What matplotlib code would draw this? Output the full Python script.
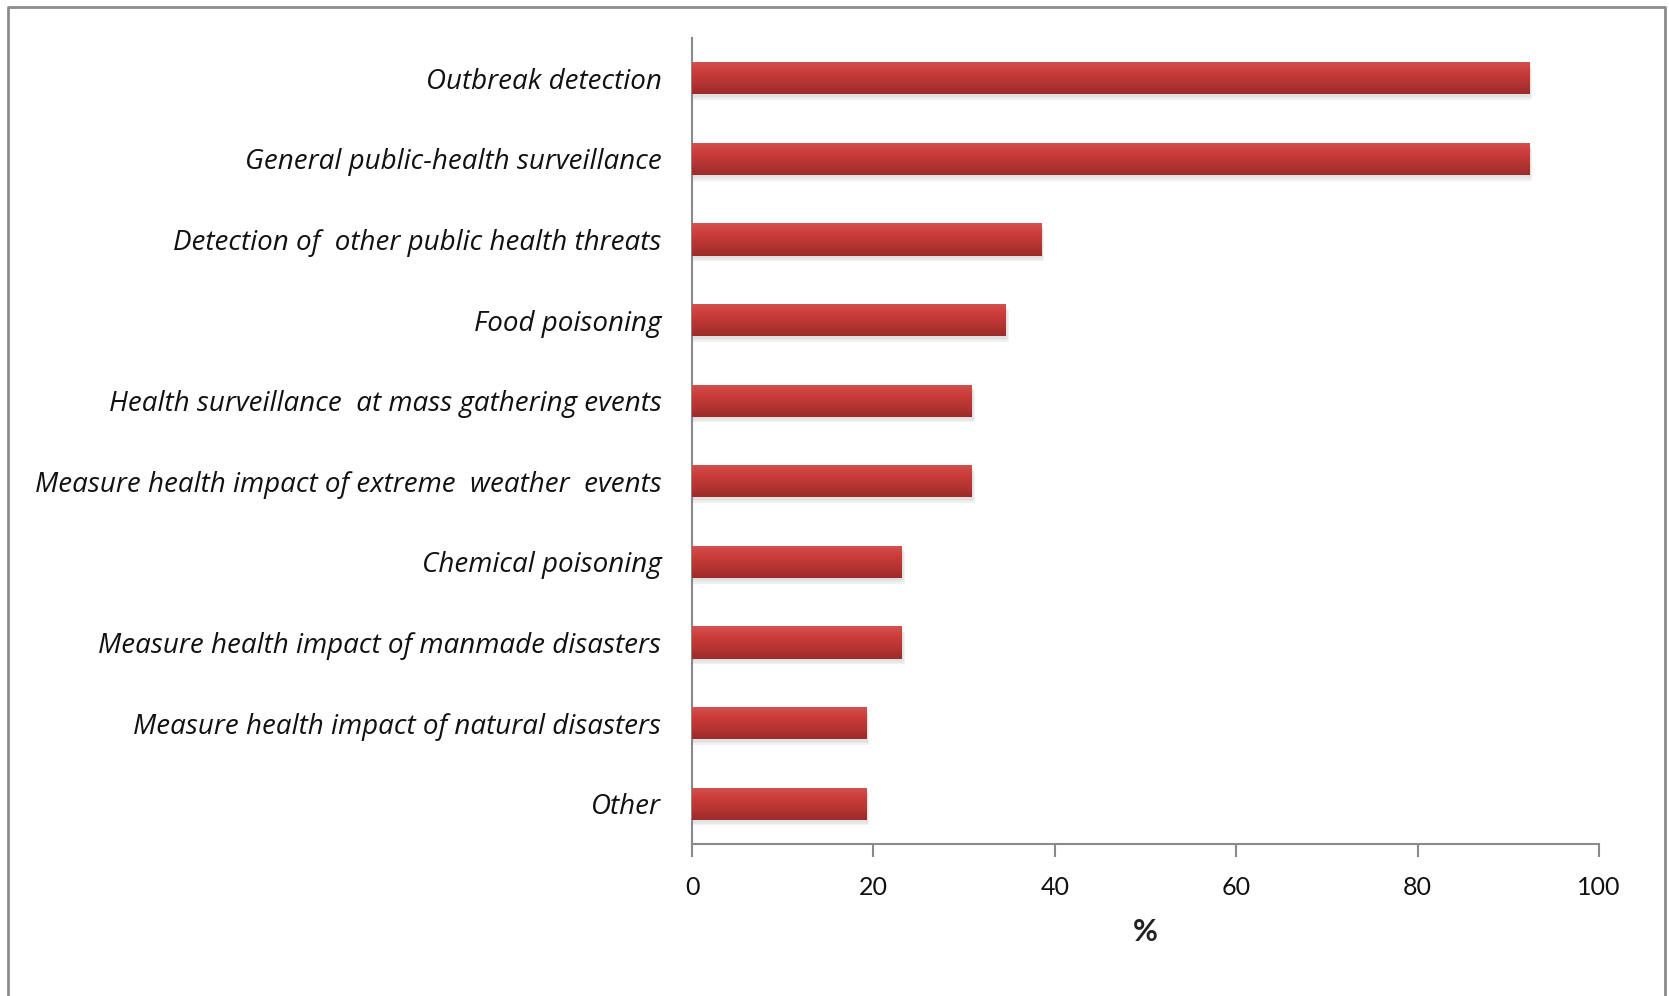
import matplotlib.pyplot as plt
import numpy as np
from matplotlib.colors import LinearSegmentedColormap
from matplotlib.lines import Line2D

categories = [
    "Outbreak detection",
    "General public-health surveillance",
    "Detection of  other public health threats",
    "Food poisoning",
    "Health surveillance  at mass gathering events",
    "Measure health impact of extreme  weather  events",
    "Chemical poisoning",
    "Measure health impact of manmade disasters",
    "Measure health impact of natural disasters",
    "Other",
]
values = [92.3, 92.3, 38.5, 34.6, 30.8, 30.8, 23.1, 23.1, 19.2, 19.2]
xticks = [0, 20, 40, 60, 80, 100]

fig = plt.figure(figsize=(16.69, 9.96), dpi=100)
ax = fig.add_axes([692 / 1669, 1 - 844 / 996, (1599 - 692) / 1669, (844 - 38) / 996])

y = np.arange(len(categories))
h = 0.4

# soft shadow under the bars
for k, a in enumerate([0.05, 0.06, 0.08]):
    off = 0.03 + 0.02 * k
    ax.barh(y + off, np.array(values) + 0.15 + 0.1 * k, height=h, color="#555555",
            alpha=a, zorder=1, linewidth=0)

bars = ax.barh(y, values, height=h, color="#B83432", zorder=2, linewidth=0)

# vertical gradient inside each bar, light red on top to dark red at the bottom
cmap = LinearSegmentedColormap.from_list("barred", ["#D2524F", "#CB3C3A", "#B53532", "#9C2B2B"])
grad = np.linspace(0, 1, 64).reshape(-1, 1)
for b in bars:
    x0, yb = b.get_x(), b.get_y()
    im = ax.imshow(grad, extent=[x0, x0 + b.get_width(), yb + h, yb], aspect="auto",
                   cmap=cmap, origin="upper", zorder=3, interpolation="bilinear")
    im.set_clip_path(b)

ax.set_xlim(0, 100)
ax.set_ylim(len(categories) - 0.5, -0.5)
ax.set_xticks(xticks)
ax.set_yticks(y)
ax.set_yticklabels(categories, fontfamily="Open Sans", fontstyle="italic", fontsize=20, color="#111111")
ax.set_xticklabels([str(t) for t in xticks], fontfamily="Lato", fontsize=18, color="#111111")

ax.tick_params(axis="y", length=0, pad=22)
ax.tick_params(axis="x", length=9, width=1.5, color="#8a8a8a", pad=14)
for side in ["top", "right"]:
    ax.spines[side].set_visible(False)
for side in ["left", "bottom"]:
    ax.spines[side].set_color("#8a8a8a")
    ax.spines[side].set_linewidth(1.5)

ax.set_xlabel("%", fontfamily="Lato", fontsize=22, fontweight="bold", color="#222222", labelpad=14)

# outer frame (left, top, right; bottom is cropped off in the original)
fx0, fx1, fy1 = 8 / 1669, 1665 / 1669, 1 - 7 / 996
fig.add_artist(Line2D([fx0, fx0, fx1, fx1], [0, fy1, fy1, 0], transform=fig.transFigure,
                      color="#8c8c8c", linewidth=2))

fig.savefig("out.png", dpi=100)
